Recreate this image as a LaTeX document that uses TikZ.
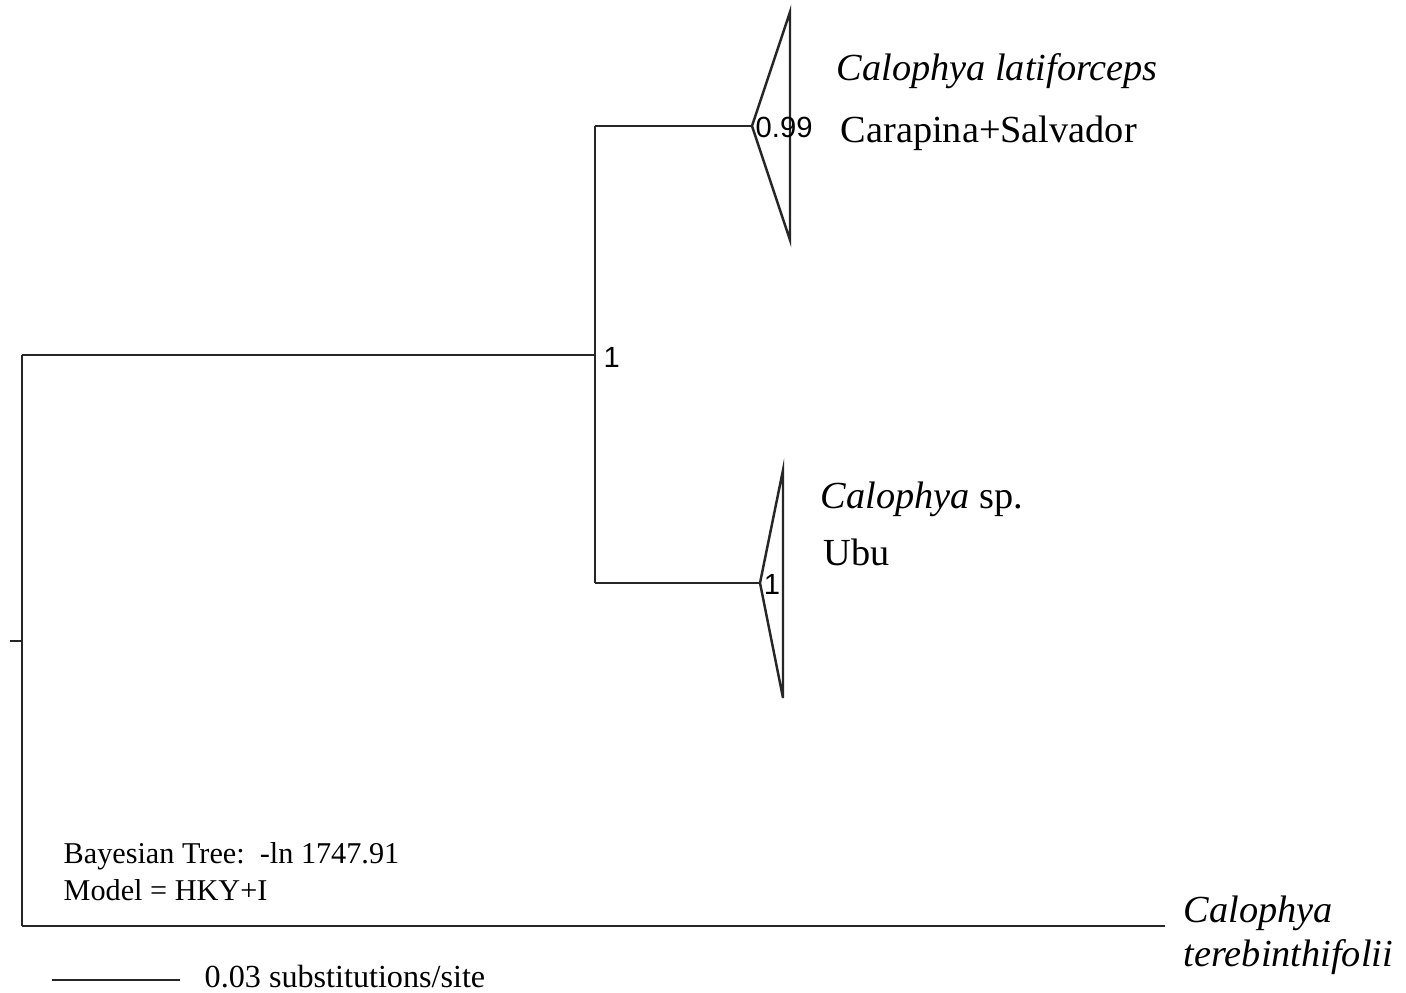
\documentclass[tikz,border=0pt]{standalone}
\usepackage{fontspec}
\setmainfont{Liberation Serif}
\newfontfamily\supportfont{Liberation Sans}
\usetikzlibrary{positioning}
\tikzset{>=latex}

\begin{document}
\begin{tikzpicture}[
        branch/.style={line width=0.7pt, draw=black!85},
        taxon/.style={anchor=base west, inner sep=0pt, font=\fontsize{10.9}{13}\selectfont},
        support/.style={inner sep=0pt, font=\supportfont\fontsize{8.3}{10}\selectfont},
        legend/.style={anchor=base west, inner sep=0pt, font=\fontsize{8.6}{11}\selectfont},
    ]
        \useasboundingbox (0,0) rectangle (14.06,-9.92);

        % tree nodes
        \coordinate (rootbase) at (0.10,-6.41);
        \coordinate (root) at (0.22,-6.41);
        \coordinate (rtop) at (0.22,-3.55);
        \coordinate (rbot) at (0.22,-9.26);
        \coordinate (nA) at (5.95,-3.55);
        \coordinate (nAtop) at (5.95,-1.26);
        \coordinate (nAbot) at (5.95,-5.83);
        \coordinate (latiapex) at (7.52,-1.26);
        \coordinate (latitop) at (7.90,-0.12);
        \coordinate (latibot) at (7.90,-2.40);
        \coordinate (spapex) at (7.60,-5.83);
        \coordinate (sptop) at (7.83,-4.70);
        \coordinate (spbot) at (7.83,-6.98);
        \coordinate (tereb) at (11.65,-9.26);

        % branches
        \draw[branch] (rootbase) -- (root);
        \draw[branch] (rtop) -- (rbot);
        \draw[branch] (rtop) -- (nA);
        \draw[branch] (nAtop) -- (nAbot);
        \draw[branch] (nAtop) -- (latiapex);
        \draw[branch] (nAbot) -- (spapex);
        \draw[branch] (rbot) -- (tereb);

        % collapsed clades
        \draw[branch] (latiapex) -- (latitop) -- (latibot) -- cycle;
        \draw[branch] (spapex) -- (sptop) -- (spbot) -- cycle;

        % posterior probabilities
        \node[support, anchor=west] (ppA) at (6.03,-3.57) {1};
        \node[support, anchor=west] (pplati) at (7.55,-1.27) {0.99};
        \node[support] (ppsp) at (7.72,-5.84) {1};

        % taxa
        \node[taxon] (lati) at (8.36,-0.80) {\textit{Calophya latiforceps}};
        \node[taxon] (latiloc) at (8.40,-1.42) {Carapina+Salvador};
        \node[taxon] (sp) at (8.20,-5.08) {\textit{Calophya} sp.};
        \node[taxon] (sploc) at (8.23,-5.65) {Ubu};
        \node[taxon] (terebA) at (11.83,-9.22) {\textit{Calophya}};
        \node[taxon] (terebB) at (11.83,-9.66) {\textit{terebinthifolii}};

        % legend
        \node[legend] (bayes) at (0.63,-8.63) {Bayesian Tree:\, -ln 1747.91};
        \node[legend] (model) at (0.63,-9.00) {Model = HKY+I};

        % scale bar
        \coordinate (scaleL) at (0.52,-9.80);
        \coordinate (scaleR) at (1.80,-9.80);
        \draw[branch] (scaleL) -- (scaleR);
        \node[legend, font=\fontsize{9.15}{11}\selectfont] (scale) at (2.04,-9.87) {0.03 substitutions/site};
    \end{tikzpicture}
\end{document}
